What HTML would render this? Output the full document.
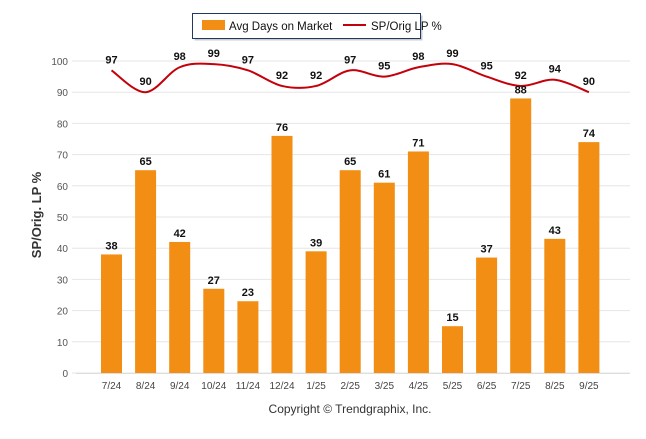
<!DOCTYPE html>
<html><head><meta charset="utf-8"><style>
body{margin:0;background:#fff;font-family:"Liberation Sans",sans-serif}
</style></head><body>
<svg id="c" width="646" height="434" xmlns="http://www.w3.org/2000/svg" style="font-family:'Liberation Sans',sans-serif">
<g>
<rect x="194.5" y="15.5" width="228" height="25" fill="#ccc"/>
<rect x="192.5" y="13.5" width="228" height="25" fill="#fff" stroke="#1f3864" stroke-width="1"/>
<rect x="202" y="20" width="23" height="10" fill="#f18e13"/>
<text x="229" y="30" font-size="11.5" fill="#111">Avg Days on Market</text>
<line x1="343" y1="25" x2="366" y2="25" stroke="#c4000b" stroke-width="2"/>
<text x="371" y="30" font-size="11.5" fill="#111">SP/Orig LP %</text>
</g>
<text transform="translate(41,215) rotate(-90)" text-anchor="middle" font-size="13" font-weight="bold" fill="#333">SP/Orig. LP %</text>
<text x="350" y="413" text-anchor="middle" font-size="12" fill="#333">Copyright © Trendgraphix, Inc.</text>
<g id="grid"></g><g id="bars"></g><g id="line"></g><g id="labels"></g>
</svg>
<script>
const categories=["7/24","8/24","9/24","10/24","11/24","12/24","1/25","2/25","3/25","4/25","5/25","6/25","7/25","8/25","9/25"];
const daysOnMarket=[38,65,42,27,23,76,39,65,61,71,15,37,88,43,74];
const spOrigLP=[97,90,98,99,97,92,92,97,95,98,99,95,92,94,90];
const yTicks=[0,10,20,30,40,50,60,70,80,90,100];
const NS="http://www.w3.org/2000/svg";
const y0=373,k=3.12,x0=111.5,step=34.1;
const yS=v=>y0-v*k, xS=i=>x0+i*step;
function mk(t,a,p,txt){const e=document.createElementNS(NS,t);for(const n in a)e.setAttribute(n,a[n]);if(txt!==undefined)e.textContent=txt;document.getElementById(p).appendChild(e);return e;}
yTicks.forEach(v=>{
 const l=mk('line',{x1:72,x2:630,y1:yS(v),y2:yS(v),stroke:'#e6e6e6','stroke-width':1},'grid');
 
 
 const t=mk('text',{x:68,y:yS(v)+4,'text-anchor':'end','font-size':10,fill:'#555'},'grid',v);
 
 
});
const ax=mk('line',{x1:76,x2:630,y1:y0+0.5,y2:y0+0.5,stroke:'#ddd'},'grid');


categories.forEach((c,i)=>{
 const x=xS(i),v=daysOnMarket[i];
 const b=mk('rect',{x:x-10.5,y:yS(v),width:21,height:v*k,fill:'#f18e13'},'bars');
 
 
 const t=mk('text',{x:x,y:yS(v)-5,'text-anchor':'middle','font-size':11,'font-weight':'bold',fill:'#111'},'labels',v);
 
 
 const xl=mk('text',{x:x,y:389,'text-anchor':'middle','font-size':10,fill:'#444'},'labels',c);
 
 
 const lt=mk('text',{x:x,y:yS(spOrigLP[i])-7,'text-anchor':'middle','font-size':11,'font-weight':'bold',fill:'#111'},'labels',spOrigLP[i]);
 
 
});
const pts=spOrigLP.map((v,i)=>[xS(i),yS(v)]);
let d='M'+pts[0][0]+','+pts[0][1];
for(let i=0;i<pts.length-1;i++){
 const p0=pts[Math.max(0,i-1)],p1=pts[i],p2=pts[i+1],p3=pts[Math.min(pts.length-1,i+2)];
 const c1=[p1[0]+(p2[0]-p0[0])/6,p1[1]+(p2[1]-p0[1])/6],c2=[p2[0]-(p3[0]-p1[0])/6,p2[1]-(p3[1]-p1[1])/6];
 d+=' C'+c1+' '+c2+' '+p2;
}
const ln=mk('path',{d:d,fill:'none',stroke:'#c4000b','stroke-width':2},'line');


</script>
</body></html>
